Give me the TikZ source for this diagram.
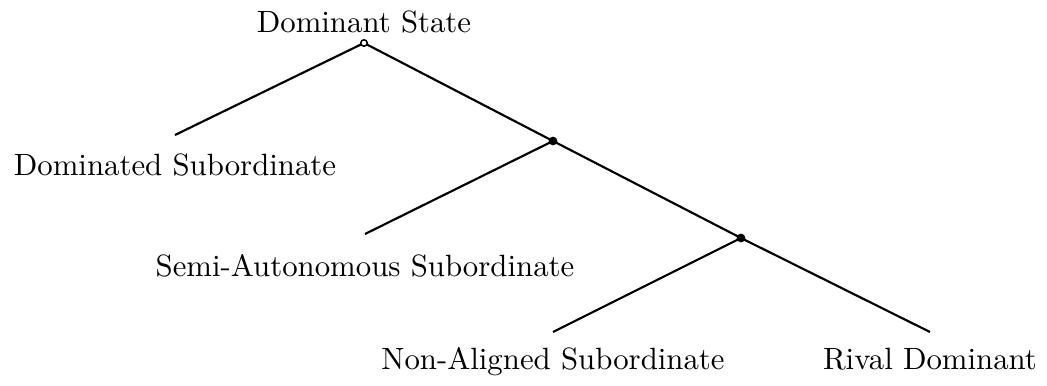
\documentclass[tikz,border=0pt]{standalone}
\usepackage{tikz}
\usetikzlibrary{positioning}

\begin{document}
\begin{tikzpicture}[
  x=0.01141cm, y=-0.01141cm,
  hollow node/.style={circle,draw,fill=white,inner sep=0pt,minimum size=2.1pt,line width=0.5pt},
  solid node/.style={circle,draw,fill=black,inner sep=0pt,minimum size=2.4pt},
  lbl/.style={anchor=base,inner sep=0pt},
  edge/.style={line width=0.7pt},
]
\useasboundingbox (0,0) rectangle (1047,385);

% decision points
\coordinate (root) at (364,43);
\coordinate (mid) at (553,141);
\coordinate (low) at (741,238);

% ends of branches
\coordinate (dom) at (175,135);
\coordinate (semi) at (365,234);
\coordinate (nonal) at (553,332);
\coordinate (rival) at (930,332);

\draw[edge] (dom) -- (root) -- (mid) -- (low) -- (rival);
\draw[edge] (mid) -- (semi);
\draw[edge] (low) -- (nonal);

\node[hollow node] (rootdot) at (root) {};
\node[solid node] (middot) at (mid) {};
\node[solid node] (lowdot) at (low) {};

\node[lbl] (rootlbl) at (364,32) {Dominant State};
\node[lbl] (domlbl) at (175,175) {Dominated Subordinate};
\node[lbl] (semilbl) at (365,276) {Semi-Autonomous Subordinate};
\node[lbl] (nonallbl) at (553,369) {Non-Aligned Subordinate};
\node[lbl] (rivallbl) at (930,369) {Rival Dominant};
\end{tikzpicture}
\end{document}
